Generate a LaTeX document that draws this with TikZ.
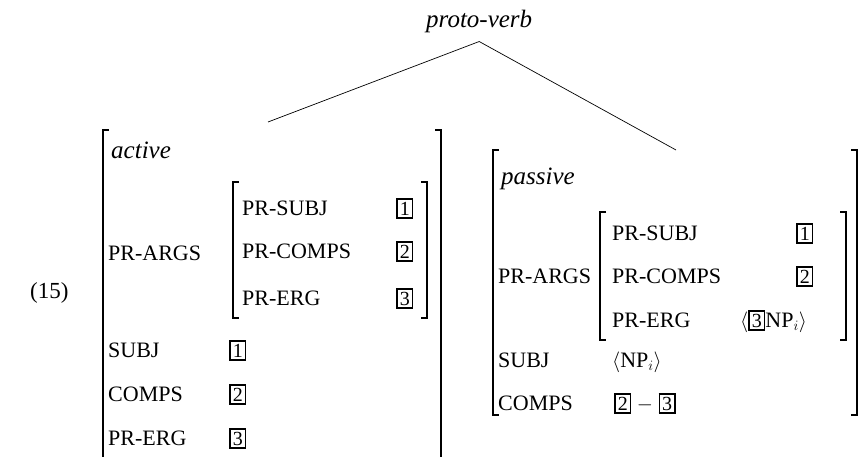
\documentclass[tikz,border=0pt]{standalone}
\usepackage{fontspec}
\setmainfont{Liberation Serif}
\usetikzlibrary{positioning}

% boxed tag for structure sharing
\newcommand{\tagbox}[1]{{\setlength{\fboxsep}{2pt}\setlength{\fboxrule}{1.6pt}\fbox{\fontsize{20}{20}\selectfont #1}}}

\tikzset{
  feat/.style={anchor=base west, inner sep=0pt, font=\fontsize{22}{26}\selectfont},
  typ/.style={feat, font=\fontsize{25}{29}\selectfont\itshape},
  brack/.style={line width=1.7pt},
  branch/.style={line width=0.7pt}
}

\begin{document}
\begin{tikzpicture}[x=1pt,y=-1pt]
  \useasboundingbox (0,0) rectangle (861,457);

  % tree top
  \node[typ] (top) at (426,28) {proto-verb};
  \coordinate (apex) at ([yshift=-8pt]top.south);
  \coordinate (actfoot) at (268,122);
  \coordinate (pasfoot) at (676,150);
  \draw[branch] (actfoot) -- (apex) -- (pasfoot);

  \node[feat, font=\fontsize{23}{27}\selectfont] (exnum) at (30,298) {(15)};

  % active matrix
  \draw[brack] (109,130) -- (103,130) -- (103,457);
  \draw[brack] (435,130) -- (441,130) -- (441,457);
  \node[typ] (act) at (111,159) {active};
  \node[feat] (aargs) at (108,260) {PR-ARGS};
  \draw[brack] (239,182) -- (233,182) -- (233,318) -- (239,318);
  \draw[brack] (421,182) -- (427,182) -- (427,318) -- (421,318);
  \node[feat] (apsubj) at (242,215) {PR-SUBJ};
  \node[feat] (apsubjv) at (396,215) {\tagbox{1}};
  \node[feat] (apcomps) at (242,258) {PR-COMPS};
  \node[feat] (apcompsv) at (396,258) {\tagbox{2}};
  \node[feat] (aperg) at (242,305) {PR-ERG};
  \node[feat] (apergv) at (396,305) {\tagbox{3}};
  \node[feat] (asubj) at (108,357) {SUBJ};
  \node[feat] (asubjv) at (229,357) {\tagbox{1}};
  \node[feat] (acomps) at (108,401) {COMPS};
  \node[feat] (acompsv) at (229,401) {\tagbox{2}};
  \node[feat] (aerg) at (108,445) {PR-ERG};
  \node[feat] (aergv) at (229,445) {\tagbox{3}};

  % passive matrix
  \draw[brack] (499,150) -- (493,150) -- (493,415) -- (499,415);
  \draw[brack] (851,150) -- (857,150) -- (857,415) -- (851,415);
  \node[typ] (pas) at (501,184) {passive};
  \node[feat] (pargs) at (498,283) {PR-ARGS};
  \draw[brack] (606,212) -- (600,212) -- (600,340) -- (606,340);
  \draw[brack] (840,212) -- (846,212) -- (846,340) -- (840,340);
  \node[feat] (ppsubj) at (612,240) {PR-SUBJ};
  \node[feat] (ppsubjv) at (796,240) {\tagbox{1}};
  \node[feat] (ppcomps) at (612,283) {PR-COMPS};
  \node[feat] (ppcompsv) at (796,283) {\tagbox{2}};
  \node[feat] (pperg) at (612,327) {PR-ERG};
  \node[feat] (ppergv) at (740,327) {$\langle$\tagbox{3}NP$_i\rangle$};
  \node[feat] (psubj) at (498,367) {SUBJ};
  \node[feat] (psubjv) at (612,367) {$\langle$NP$_i\rangle$};
  \node[feat] (pcomps) at (498,410) {COMPS};
  \node[feat] (pcompsv) at (614,410) {\tagbox{2} $-$ \tagbox{3}};
\end{tikzpicture}
\end{document}
